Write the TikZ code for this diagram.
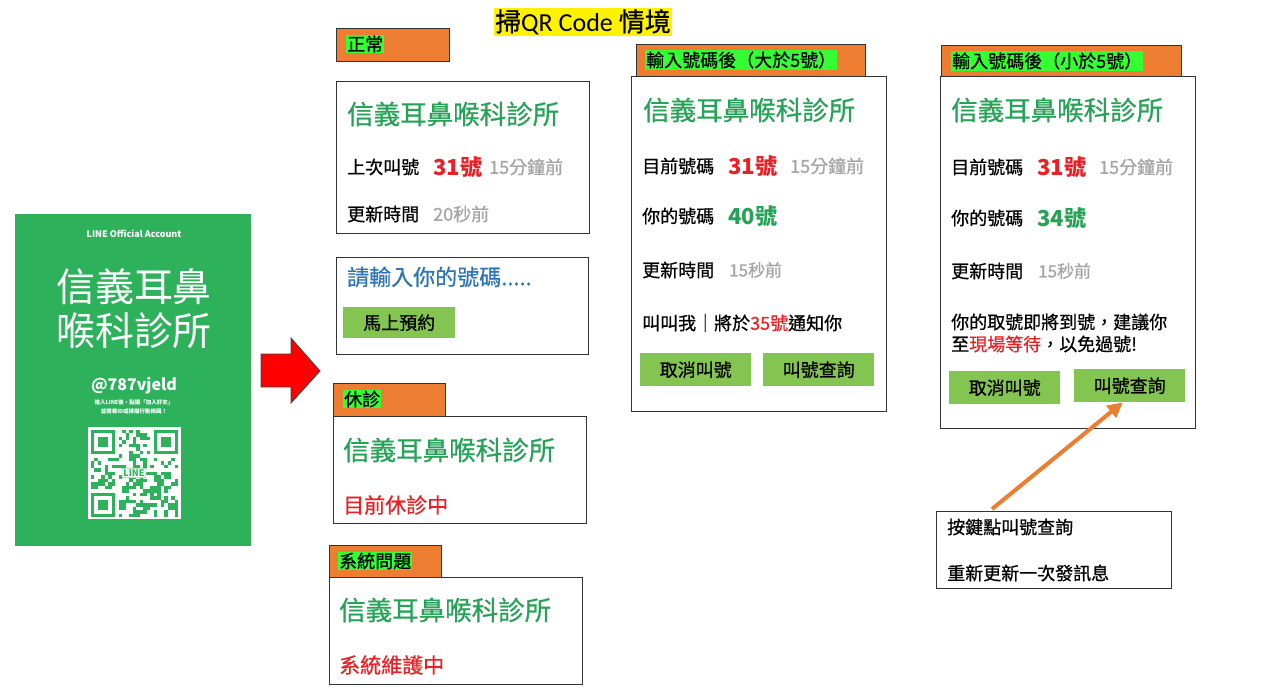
\documentclass[tikz,border=0pt]{standalone}
\usepackage{fontspec}
\setmainfont{Noto Sans CJK TC}
\newfontfamily\jh{Noto Sans CJK TC}[FakeBold=0.7]
\newfontfamily\latin{Carlito}
\usetikzlibrary{arrows.meta,positioning}

\definecolor{lineGreen}{HTML}{2DB25B}
\definecolor{clinicGreen}{HTML}{27A358}
\definecolor{callRed}{HTML}{E82127}
\definecolor{hintGray}{HTML}{A5A5A5}
\definecolor{inputBlue}{HTML}{2E75B6}
\definecolor{btnGreen}{HTML}{84C450}
\definecolor{tabOrange}{HTML}{ED7D31}
\definecolor{hlGreen}{HTML}{33FF33}

\newcommand\fsz[1]{\fontsize{#1}{#1}\selectfont}

\begin{document}
\begin{tikzpicture}[x=1pt,y=-1pt,
card/.style={draw=black!80, fill=white, line width=1.3pt, anchor=north west, inner sep=0pt},
tab/.style={draw=black!80, fill=tabOrange, line width=1.1pt, anchor=north west, inner sep=0pt},
txt/.style={anchor=west, inner sep=0pt},
hilite/.style={anchor=west, fill=hlGreen, inner sep=1pt, font=\jh\fsz{18}},
clinic/.style={txt, text=clinicGreen, font=\jh\fsz{26.5}},
body/.style={txt, font=\jh\fsz{18}},
calls/.style={txt, text=callRed, font=\bfseries\fsz{22}},
yours/.style={txt, text=clinicGreen, font=\bfseries\fsz{22}},
hint/.style={txt, text=hintGray, font=\jh\fsz{18}},
button/.style={fill=btnGreen, minimum width=111pt, minimum height=33pt, inner sep=0pt, anchor=north west, font=\jh\fsz{18}},
poster/.style={text=white, inner sep=0pt},
pointer/.style={draw=tabOrange, line width=4pt, -{Triangle[length=15pt,width=15pt]}}]

\useasboundingbox (0,0) rectangle (1280,698);

%% local variables
\def \qm {3.5}

%% title
\node[fill=yellow, inner sep=1pt, font=\jh\fsz{26}] (title) at (583,22) {掃{\latin QR Code }情境};

%% LINE poster on the left
\node[fill=lineGreen, minimum width=236pt, minimum height=332pt, anchor=north west, inner sep=0pt] (post) at (15,214) {};
\node[poster, font=\bfseries\fsz{9}] (acct) at (134,234) {LINE Official Account};
\node[poster, font=\fsz{39}] (name1) at (134,287) {信義耳鼻};
\node[poster, font=\fsz{39}] (name2) at (134,331) {喉科診所};
\node[poster, font=\bfseries\fsz{16}] (id) at (134,386) {@787vjeld};
\node[poster, font=\bfseries\fsz{5.5}] (hint1) at (134,402) {進入LINE後，點選「加入好友」};
\node[poster, font=\bfseries\fsz{5.5}] (hint2) at (134,411) {並搜尋ID或掃描行動條碼！};

%% qr code
\fill[white] (88,427) rectangle (181,519);
\pgfmathsetseed{17}
\foreach \i in {0,...,24}
  \foreach \j in {0,...,24} {
    \pgfmathtruncatemacro\bit{rnd<0.45 ? 1 : 0}
    \ifnum\bit=1 \fill[lineGreen] ({90.5+\i*\qm},{429.5+\j*\qm}) rectangle ++(\qm,\qm); \fi
  }
\foreach \a/\b/\sa/\sb in {0/0/0/0, 18/0/-1/0, 0/18/0/-1} {
  \fill[white] ({90.5+(\a+\sa)*\qm},{429.5+(\b+\sb)*\qm}) rectangle ++({8*\qm},{8*\qm});
  \fill[lineGreen] ({90.5+\a*\qm},{429.5+\b*\qm}) rectangle ++({7*\qm},{7*\qm});
  \fill[white] ({90.5+(\a+1)*\qm},{429.5+(\b+1)*\qm}) rectangle ++({5*\qm},{5*\qm});
  \fill[lineGreen] ({90.5+(\a+2)*\qm},{429.5+(\b+2)*\qm}) rectangle ++({3*\qm},{3*\qm});
}
\node[draw=lineGreen, fill=white, text=lineGreen, font=\bfseries\fsz{9}, inner sep=1.5pt, rounded corners=1pt] (logo) at (134,473) {LINE};

%% red arrow
\draw[draw=black!75, fill=red, line width=0.8pt] (261,354) -- (291,354) -- (291,338) -- (320,371) -- (291,403) -- (291,387) -- (261,387) -- cycle;

%% normal state
\node[tab, minimum width=113pt, minimum height=33pt] (tabA) at (336,28) {};
\node[hilite] (labA) at (346,44) {正常};
\node[card, minimum width=253pt, minimum height=152pt] (cardA) at (336,81) {};
\node[clinic] (nameA) at (347,114) {信義耳鼻喉科診所};
\node[body] (lastA) at (347,167) {上次叫號};
\node[calls] (numA) at (433,167) {31號};
\node[hint] (agoA) at (489,167) {15分鐘前};
\node[body] (updA) at (347,214) {更新時間};
\node[hint] (secA) at (433,214) {20秒前};

%% enter number
\node[card, minimum width=252pt, minimum height=97pt] (cardB) at (336,257) {};
\node[txt, text=inputBlue, font=\jh\fsz{22}] (askB) at (347,277) {請輸入你的號碼.....};
\node[button, minimum width=112pt, minimum height=31pt] (bookB) at (343,307) {馬上預約};

%% closed state
\node[tab, minimum width=112pt, minimum height=33pt] (tabC) at (333,383) {};
\node[hilite] (labC) at (343,399) {休診};
\node[card, minimum width=253pt, minimum height=107pt] (cardC) at (333,416) {};
\node[clinic] (nameC) at (343,450) {信義耳鼻喉科診所};
\node[txt, text=callRed, font=\jh\fsz{21}] (offC) at (343,505) {目前休診中};

%% system problem
\node[tab, minimum width=112pt, minimum height=32pt] (tabD) at (329,545) {};
\node[hilite] (labD) at (338,561) {系統問題};
\node[card, minimum width=253pt, minimum height=107pt] (cardD) at (329,577) {};
\node[clinic] (nameD) at (339,610) {信義耳鼻喉科診所};
\node[txt, text=callRed, font=\jh\fsz{21}] (offD) at (339,665) {系統維護中};

%% after input, more than 5 numbers ahead
\node[tab, minimum width=229pt, minimum height=33pt] (tabE) at (636,44) {};
\node[hilite] (labE) at (645,60) {輸入號碼後（大於5號）};
\node[card, minimum width=255pt, minimum height=335pt] (cardE) at (631,76) {};
\node[clinic] (nameE) at (643,110) {信義耳鼻喉科診所};
\node[body] (curE) at (642,166) {目前號碼};
\node[calls] (numE) at (728,166) {31號};
\node[hint] (agoE) at (790,166) {15分鐘前};
\node[body] (mineE) at (642,216) {你的號碼};
\node[yours] (ownE) at (728,216) {40號};
\node[body] (updE) at (642,270) {更新時間};
\node[hint, font=\jh\fsz{17}] (secE) at (729,270) {15秒前};
\node[body] (callE) at (642,323) {叫叫我｜將於{\color{callRed}35號}通知你};
\node[button, minimum height=33pt] (cancelE) at (640,353) {取消叫號};
\node[button, minimum height=33pt] (queryE) at (763,353) {叫號查詢};

%% after input, less than 5 numbers ahead
\node[tab, minimum width=240pt, minimum height=32pt] (tabF) at (941,45) {};
\node[hilite] (labF) at (951,61) {輸入號碼後（小於5號）};
\node[card, minimum width=255pt, minimum height=352pt] (cardF) at (940,76) {};
\node[clinic] (nameF) at (951,110) {信義耳鼻喉科診所};
\node[body] (curF) at (951,167) {目前號碼};
\node[calls] (numF) at (1037,167) {31號};
\node[hint] (agoF) at (1099,167) {15分鐘前};
\node[body] (mineF) at (951,218) {你的號碼};
\node[yours] (ownF) at (1037,218) {34號};
\node[body] (updF) at (951,271) {更新時間};
\node[hint, font=\jh\fsz{17}] (secF) at (1038,271) {15秒前};
\node[body] (soonF) at (951,322) {你的取號即將到號，建議你};
\node[body] (waitF) at (951,344) {至{\color{callRed}現場等待}，以免過號!};
\node[button] (cancelF) at (949,371) {取消叫號};
\node[button] (queryF) at (1074,369) {叫號查詢};

%% note and pointer
\node[card, minimum width=235pt, minimum height=77pt] (note) at (936,511) {};
\node[body] (note1) at (947,527) {按鍵點叫號查詢};
\node[body] (note2) at (947,573) {重新更新一次發訊息};
\coordinate (tail) at (992,509);
\draw[pointer] (tail) -- ([xshift=-7pt]queryF.south);

\end{tikzpicture}
\end{document}
